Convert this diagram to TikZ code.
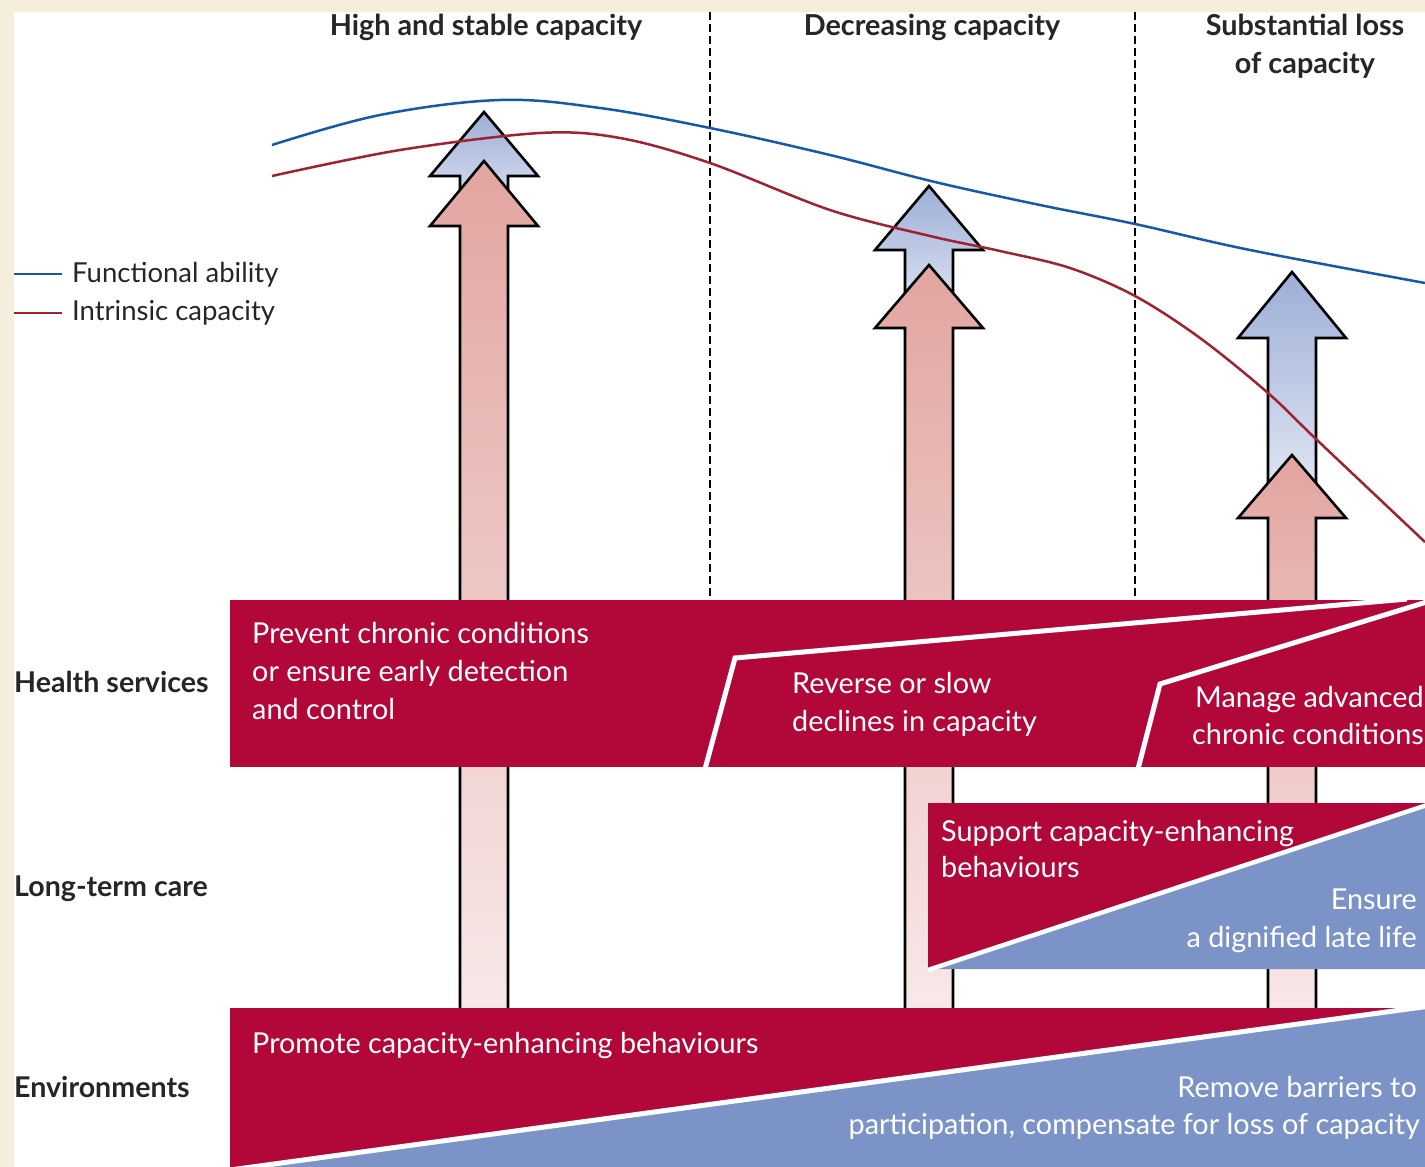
\documentclass[tikz,border=0pt]{standalone}
\usepackage{fontspec}
\setmainfont{Lato}
\definecolor{bandred}{RGB}{177,7,57}
\definecolor{bandblue}{RGB}{124,147,199}
\definecolor{cream}{RGB}{245,238,220}
\definecolor{fablue}{RGB}{22,88,170}
\definecolor{icred}{RGB}{158,34,48}
\definecolor{pinktop}{RGB}{226,165,160}
\definecolor{pinkbot}{RGB}{248,233,233}
\definecolor{bluetop}{RGB}{157,174,215}
\definecolor{bluebot}{RGB}{232,236,246}
\newcommand\BigArrowShape[6]{%
  \path[draw=black, line width=2.6pt, line join=miter, top color=#5, bottom color=#6]
    (#1,#2) -- (#1+54,#3) -- (#1+24,#3) -- (#1+24,#4) -- (#1-24,#4) -- (#1-24,#3) -- (#1-54,#3) -- cycle;}
\begin{document}
\begin{tikzpicture}[x=1pt,y=-1pt,
  bandtext/.style={text=white, font=\fontsize{28.8}{34}\selectfont, inner sep=0pt, anchor=base west},
  bandtextr/.style={bandtext, anchor=base east},
  rowlabel/.style={text=black!85, font=\bfseries\fontsize{28.6}{32}\selectfont, inner sep=0pt, anchor=base west},
  phase/.style={text=black!85, font=\bfseries\fontsize{28.8}{33}\selectfont, inner sep=0pt, anchor=base},
  legtext/.style={text=black!85, font=\fontsize{27.5}{31}\selectfont, inner sep=0pt, anchor=base west},
  divider/.style={white, line width=5pt, line join=miter},
  phaseline/.style={black, line width=2pt, dash pattern=on 8pt off 4pt}]
\useasboundingbox (0,0) rectangle (1425,1167);
\begin{scope}
\clip (0,0) rectangle (1425,1167);
\fill[cream] (0,0) rectangle (1425,1167);
\fill[white] (14,12) rectangle (1425,1167);

% phase separators
\draw[phaseline] (710,12) -- (710,598);
\draw[phaseline] (1135,12) -- (1135,598);

% phase titles
\node[phase] (t1) at (486,35) {High and stable capacity};
\node[phase] (t2) at (932,35) {Decreasing capacity};
\node[phase] (t3a) at (1305,35) {Substantial loss};
\node[phase] (t3b) at (1305,73) {of capacity};

% arrows
\BigArrowShape{484}{112}{176}{226}{bluetop}{bluebot}
\BigArrowShape{484}{161}{226}{1015}{pinktop}{pinkbot}
\BigArrowShape{929}{186}{250}{328}{bluetop}{bluebot}
\BigArrowShape{929}{265}{328}{1015}{pinktop}{pinkbot}
\BigArrowShape{1292}{272}{338}{518}{bluetop}{bluebot}
\BigArrowShape{1292}{455}{518}{1015}{pinktop}{pinkbot}

% curves
\draw[fablue, line width=2.5pt] plot[smooth, tension=0.6] coordinates
  {(272,145) (380,115) (500,100) (600,108) (710,128) (830,155) (935,182) (1040,205) (1135,224) (1250,250) (1425,283)};
\draw[icred, line width=2.5pt] plot[smooth, tension=0.55] coordinates
  {(272,176) (400,150) (540,133) (620,138) (710,163) (830,210) (930,236) (1000,251) (1070,268) (1135,296) (1200,338) (1268,393) (1317,440) (1425,542)};

% legend
\draw[fablue, line width=2.2pt] (14,274) -- (62,274);
\draw[icred, line width=2.2pt] (14,313) -- (62,313);
\node[legtext] (lfa) at (72,282) {Functional ability};
\node[legtext] (lic) at (72,320) {Intrinsic capacity};

% health services band
\fill[bandred] (230,600) rectangle (1425,767);
\draw[divider] (705,769) -- (735,658) -- (1407,599);
\draw[divider] (1138,769) -- (1160,684) -- (1430,601);
\node[bandtext] (hs1) at (252,643) {Prevent chronic conditions};
\node[bandtext] (hs2) at (252,681) {or ensure early detection};
\node[bandtext] (hs3) at (252,719) {and control};
\node[bandtext] (hs4) at (792,693) {Reverse or slow};
\node[bandtext] (hs5) at (792,731) {declines in capacity};
\node[bandtext] (hs6) at (1195,707) {Manage advanced};
\node[bandtext] (hs7) at (1192,744) {chronic conditions};

% long-term care band
\fill[bandred] (928,803) rectangle (1425,969);
\fill[bandblue] (928,969) -- (1425,806) -- (1425,969) -- cycle;
\draw[white, line width=4.5pt] (928,970) -- (1427,805);
\node[bandtext] (lt1) at (941,841) {Support capacity-enhancing};
\node[bandtext] (lt2) at (941,877) {behaviours};
\node[bandtextr] (lt3) at (1417,909) {Ensure};
\node[bandtextr] (lt4) at (1417,947) {a dignified late life};

% environments band
\fill[bandred] (230,1008) rectangle (1425,1167);
\fill[bandblue] (230,1170) -- (1425,1008) -- (1425,1170) -- cycle;
\draw[white, line width=5pt] (230,1170) -- (1430,1006);
\node[bandtext] (en1) at (252,1053) {Promote capacity-enhancing behaviours};
\node[bandtextr] (en2) at (1417,1097) {Remove barriers to};
\node[bandtextr] (en3) at (1420,1134) {participation, compensate for loss of capacity};

% row labels
\node[rowlabel] (rhs) at (14,692) {Health services};
\node[rowlabel] (rlt) at (14,896) {Long-term care};
\node[rowlabel] (ren) at (14,1097) {Environments};
\end{scope}
\end{tikzpicture}
\end{document}
